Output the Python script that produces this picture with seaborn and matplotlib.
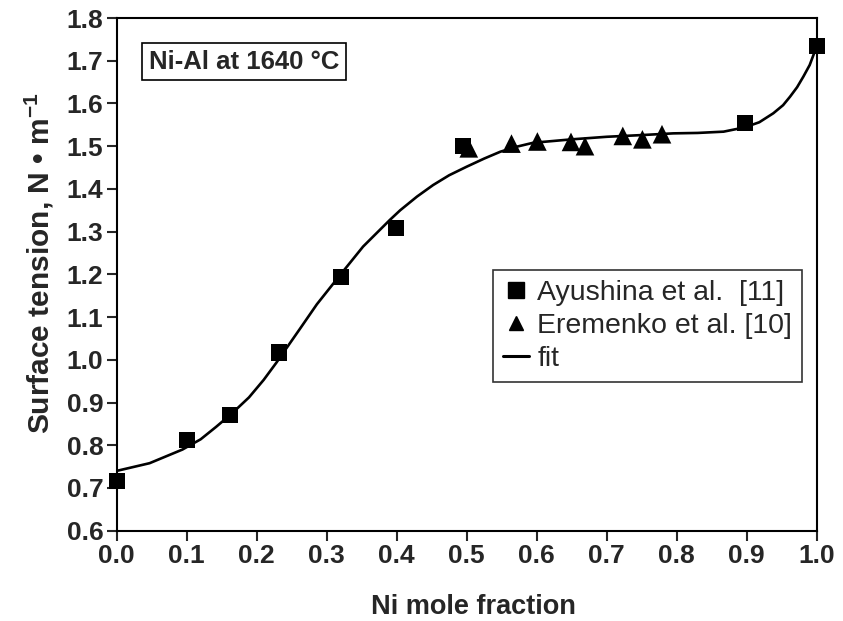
import matplotlib
matplotlib.use("Agg")
import matplotlib.pyplot as plt
from matplotlib.lines import Line2D
import seaborn as sns
import pandas as pd

# Ayushina et al. [11] (squares)
ayushina_x = [0.0, 0.10, 0.162, 0.232, 0.320, 0.399, 0.495, 0.897, 1.0]
ayushina_y = [0.716, 0.812, 0.871, 1.017, 1.193, 1.309, 1.500, 1.555, 1.734]

# Eremenko et al. [10] (triangles)
eremenko_x = [0.503, 0.564, 0.601, 0.649, 0.669, 0.723, 0.751, 0.779]
eremenko_y = [1.495, 1.506, 1.511, 1.510, 1.500, 1.524, 1.516, 1.528]

# fit curve
fit_x = [0.0, 0.047, 0.094, 0.120, 0.142, 0.165, 0.189, 0.210, 0.228, 0.262,
         0.286, 0.319, 0.352, 0.390, 0.405, 0.429, 0.452, 0.475, 0.50, 0.525,
         0.548, 0.572, 0.595, 0.65, 0.70, 0.75, 0.795, 0.83, 0.867, 0.897,
         0.918, 0.938, 0.952, 0.962, 0.972, 0.981, 0.990, 0.998, 1.0]
fit_y = [0.740, 0.758, 0.790, 0.814, 0.843, 0.875, 0.912, 0.953, 0.993, 1.073,
         1.130, 1.198, 1.265, 1.327, 1.350, 1.382, 1.409, 1.432, 1.452, 1.471,
         1.487, 1.499, 1.508, 1.516, 1.522, 1.526, 1.530, 1.531, 1.534, 1.544,
         1.556, 1.577, 1.596, 1.616, 1.638, 1.663, 1.690, 1.725, 1.734]

df_a = pd.DataFrame({"x": ayushina_x, "y": ayushina_y})
df_e = pd.DataFrame({"x": eremenko_x, "y": eremenko_y})
df_fit = pd.DataFrame({"x": fit_x, "y": fit_y})

sns.set_style("ticks")
plt.rcParams["font.family"] = ["Liberation Sans", "DejaVu Sans"]
plt.rcParams["mathtext.fontset"] = "custom"
plt.rcParams["mathtext.rm"] = "Liberation Sans"
plt.rcParams["mathtext.bf"] = "Liberation Sans:bold"

fig = plt.figure(figsize=(8.43, 6.21), dpi=100)
ax = fig.add_axes([0.1384, 0.1454, 0.8304, 0.8256])

sns.lineplot(data=df_fit, x="x", y="y", ax=ax, color="black", linewidth=1.9,
             sort=False, estimator=None)
sns.scatterplot(data=df_e, x="x", y="y", ax=ax, marker="^", s=180,
                color="black", edgecolor="none", zorder=3, clip_on=False)
sns.scatterplot(data=df_a, x="x", y="y", ax=ax, marker="s", s=135,
                color="black", edgecolor="none", zorder=4, clip_on=False)

ax.set_xlim(0, 1.0)
ax.set_ylim(0.6, 1.8)
ax.set_xticks([i / 10 for i in range(11)])
ax.set_yticks([0.6 + i / 10 for i in range(13)])
ax.set_xticklabels([f"{i / 10:.1f}" for i in range(11)])
ax.set_yticklabels([f"{0.6 + i / 10:.1f}" for i in range(13)])
ax.tick_params(direction="out", length=7, width=1.5, labelsize=19, pad=2.5)
for lab in ax.get_xticklabels() + ax.get_yticklabels():
    lab.set_fontweight("bold")
for sp in ax.spines.values():
    sp.set_visible(True)
    sp.set_linewidth(1.5)
    sp.set_color("black")

ax.set_xlabel("Ni mole fraction", fontsize=19.5, fontweight="bold")
ax.xaxis.set_label_coords(0.51, -0.148)
ax.xaxis.label.set_va("center")
ax.set_ylabel(r"Surface tension, N • m$^{\mathbf{-1}}$", fontsize=21.5,
              fontweight="bold")
ax.yaxis.set_label_coords(-0.087, 0.521)

ax.text(0.182, 0.915, "Ni-Al at 1640 °C", transform=ax.transAxes,
        ha="center", va="center", fontsize=18.5, fontweight="bold",
        bbox=dict(boxstyle="square,pad=0.25", facecolor="white",
                  edgecolor="black", linewidth=1.2))

handles = [
    Line2D([], [], color="black", marker="s", linestyle="none", markersize=12),
    Line2D([], [], color="black", marker="^", linestyle="none", markersize=10),
    Line2D([], [], color="black", linewidth=2.2),
]
labels = ["Ayushina et al.  [11]", "Eremenko et al. [10]", "fit"]
leg = ax.legend(handles, labels, loc="upper right", bbox_to_anchor=(0.979, 0.5085),
                borderaxespad=0, fontsize=20.5, frameon=True, fancybox=False,
                handlelength=0.9, handletextpad=0.3, labelspacing=0.25,
                borderpad=0.35)
leg.get_frame().set_edgecolor("black")
leg.get_frame().set_linewidth(1.2)

fig.savefig("out.png", dpi=100)
